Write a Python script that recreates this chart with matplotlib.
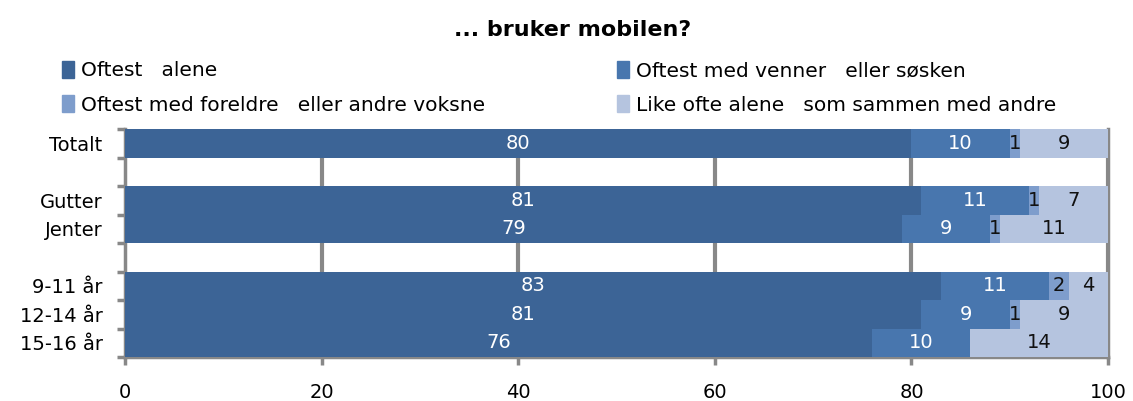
import matplotlib
matplotlib.use("Agg")
import matplotlib.pyplot as plt
from matplotlib.patches import Patch

categories = ["Totalt", "", "Gutter", "Jenter", "", "9-11 år", "12-14 år", "15-16 år"]
alene = [80, None, 81, 79, None, 83, 81, 76]
venner = [10, None, 11, 9, None, 11, 9, 10]
foreldre = [1, None, 1, 1, None, 2, 1, 0]
like_ofte = [9, None, 7, 11, None, 4, 9, 14]
series_names = ["Oftest   alene", "Oftest med venner   eller søsken",
                "Oftest med foreldre   eller andre voksne",
                "Like ofte alene   som sammen med andre"]
colors = ["#3C6496", "#4876AE", "#7E9DCC", "#B5C4DF"]
label_colors = ["white", "white", "#111111", "#111111"]
xticks = [0, 20, 40, 60, 80, 100]

plt.rcParams['font.family'] = ['DejaVu Sans']
fig = plt.figure(figsize=(11.33, 4.01), dpi=100)
ax = fig.add_axes([0.1103, 0.1097, 0.8677, 0.5683])

FS = 14
n = len(categories)
ypos = list(range(n))
series = [alene, venner, foreldre, like_ofte]
for i in range(n):
    if series[0][i] is None:
        continue
    left = 0
    for s, col, lc in zip(series, colors, label_colors):
        v = s[i]
        ax.barh(ypos[i], v, left=left, height=1.0, color=col, zorder=3)
        if v > 0:
            ax.text(left + v / 2, ypos[i], str(v), ha="center", va="center",
                    color=lc, fontsize=FS, zorder=4)
        left += v

ax.set_ylim(n - 0.5, -0.5)
ax.set_xlim(0, 100)
ax.set_xticks(xticks)
ax.set_xticklabels([str(t) for t in xticks], fontsize=FS)
ax.set_yticks([y + 0.5 for y in range(-1, n)], minor=False)
ax.set_yticklabels([])
ax.set_yticks(ypos, minor=True)
ax.set_yticklabels(categories, minor=True, fontsize=FS)
ax.tick_params(axis="y", which="minor", length=0, pad=16)
ax.tick_params(axis="y", which="major", length=6, width=2.5, color="#888888")
ax.tick_params(axis="x", length=6, width=2.5, color="#888888", pad=13)
for x in xticks[1:]:
    ax.axvline(x, color="#888888", lw=3, zorder=1)
ax.spines["top"].set_visible(False)
for side in ["left", "bottom", "right"]:
    ax.spines[side].set_color("#888888")
    ax.spines[side].set_linewidth(2.5)

fig.text(0.505, 0.925, "... bruker mobilen?", ha="center", va="center",
         fontsize=16, fontweight="bold")
handles = [Patch(color=c) for c in colors]
kw = dict(loc="upper left", frameon=False, fontsize=14.5, handlelength=0.6,
          handleheight=0.9, handletextpad=0.35, labelspacing=0.75,
          borderpad=0, borderaxespad=0)
fig.legend([handles[0], handles[2]], [series_names[0], series_names[2]],
           bbox_to_anchor=(0.0547, 0.848), **kw)
fig.legend([handles[1], handles[3]], [series_names[1], series_names[3]],
           bbox_to_anchor=(0.5446, 0.848), **kw)

fig.savefig("out.png", dpi=100)
